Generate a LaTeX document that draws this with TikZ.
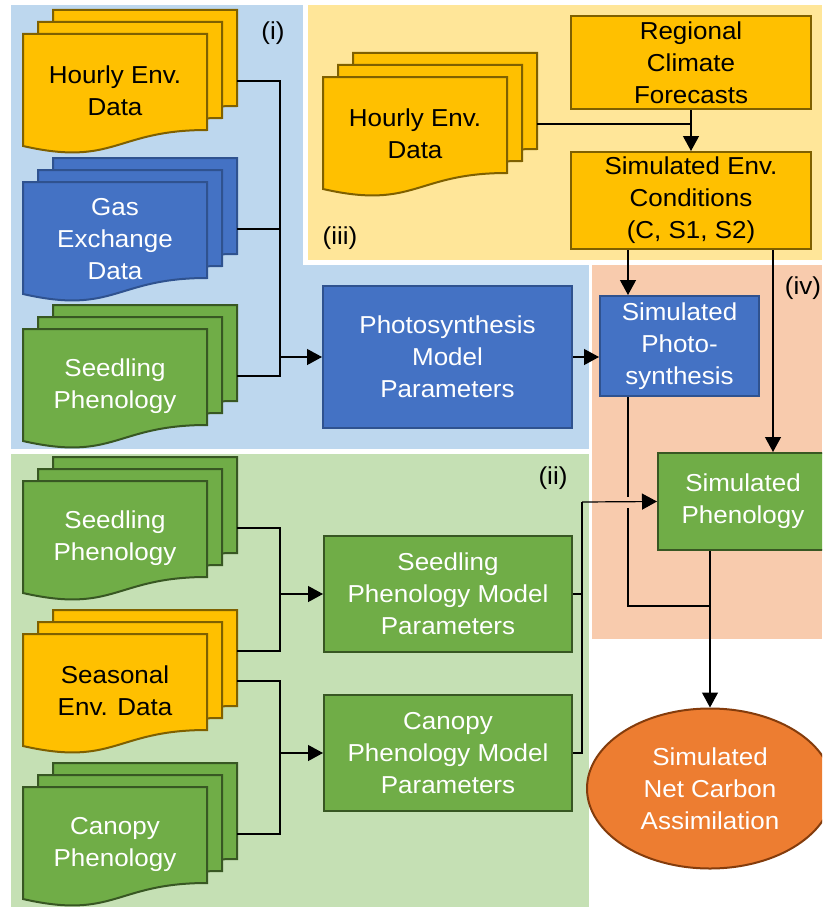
\documentclass[tikz,border=0pt]{standalone}
\usepackage{fontspec}
\setmainfont{Liberation Sans}[FakeStretch=1.06]
\usepackage{xcolor}
\usetikzlibrary{arrows.meta,shapes.geometric}

\definecolor{bgblue}{HTML}{BDD7EE}
\definecolor{bgyellow}{HTML}{FFE699}
\definecolor{bggreen}{HTML}{C5E0B4}
\definecolor{bgpeach}{HTML}{F8CBAD}
\definecolor{boxblue}{HTML}{4472C4}
\definecolor{boxblueline}{HTML}{2F528F}
\definecolor{boxgreen}{HTML}{70AD47}
\definecolor{boxgreenline}{HTML}{385723}
\definecolor{boxgold}{HTML}{FFC000}
\definecolor{boxgoldline}{HTML}{7F6000}
\definecolor{boxorange}{HTML}{ED7D31}
\definecolor{boxorangeline}{HTML}{843C0C}

% stack of three pages: name, x, y (front page corner), fill, line, text colour, text
\newcommand\docstack[7]{%
  \foreach \sh in {30,15,0}
    \draw[page, draw=#5, fill=#4] ({#2+\sh},{#3-0.8*\sh}) -- ({#2+\sh+184},{#3-0.8*\sh})
      -- ({#2+\sh+184},{#3-0.8*\sh+96})
      .. controls ({#2+\sh+92},{#3-0.8*\sh+96}) and ({#2+\sh+92},{#3-0.8*\sh+133}) .. ({#2+\sh},{#3-0.8*\sh+112}) -- cycle;
  \node[stack] (#1) at ({#2+107},{#3+47}) {};
  \node[align=center, text=#6] (#1txt) at ({#2+92},{#3+57}) {#7};
}

\begin{document}
\begin{tikzpicture}[x=1pt, y=-1pt,
            font=\fontsize{24.5}{32}\selectfont,
            box/.style={shape=rectangle, draw, line width=2pt, align=center, inner sep=0pt},
            bluebox/.style={box, fill=boxblue, draw=boxblueline, text=white},
            greenbox/.style={box, fill=boxgreen, draw=boxgreenline, text=white},
            goldbox/.style={box, fill=boxgold, draw=boxgoldline, text=black},
            page/.style={line width=2pt, line join=miter},
            stack/.style={shape=rectangle, inner sep=0pt, outer sep=0pt, minimum width=214pt, minimum height=142pt},
            wire/.style={line width=1.2pt},
            arr/.style={line width=1.2pt, -{Triangle[length=15pt,width=16pt]}}]
        \useasboundingbox (0,0) rectangle (822,907);
        \clip (0,0) rectangle (822,907);
        \fill[white] (0,0) rectangle (822,907);

        \fill[bgblue] (11,5) rectangle (589,449);
        \fill[bggreen] (11,454) rectangle (589,907);
        \fill[white] (303,0) rectangle (822,265);
        \fill[bgyellow] (308,5) rectangle (822,260);
        \fill[bgpeach] (592,265) rectangle (822,639);

        \node (labi) at (273,33) {(i)};
        \node (labii) at (553,478) {(ii)};
        \node (labiii) at (340,238) {(iii)};
        \node (labiv) at (803,288) {(iv)};

        \docstack{hourlyA}{23}{34}{boxgold}{boxgoldline}{black}{Hourly Env.\\Data}
        \docstack{gas}{23}{182}{boxblue}{boxblueline}{white}{Gas\\Exchange\\Data}
        \docstack{seedA}{23}{329}{boxgreen}{boxgreenline}{white}{Seedling\\Phenology}
        \docstack{seedB}{23}{481}{boxgreen}{boxgreenline}{white}{Seedling\\Phenology}
        \docstack{seas}{23}{634}{boxgold}{boxgoldline}{black}{Seasonal\\Env. Data}
        \docstack{canopy}{23}{787}{boxgreen}{boxgreenline}{white}{Canopy\\Phenology}
        \docstack{hourlyB}{323}{77}{boxgold}{boxgoldline}{black}{Hourly Env.\\Data}

        \node[goldbox, minimum width=240pt, minimum height=93pt] (regional) at (691,62.5) {Regional\\Climate\\Forecasts};
        \node[goldbox, minimum width=240pt, minimum height=97pt] (simenv) at (691,200.5) {Simulated Env.\\Conditions\\(C, S1, S2)};
        \node[bluebox, minimum width=249pt, minimum height=142pt] (photo) at (447.5,357) {Photosynthesis\\Model\\Parameters};
        \node[bluebox, minimum width=159pt, minimum height=100pt] (simphoto) at (679.5,346) {Simulated\\Photo-\\synthesis};
        \node[greenbox, minimum width=248pt, minimum height=116pt] (seedpar) at (448,594) {Seedling\\Phenology Model\\Parameters};
        \node[greenbox, minimum width=248pt, minimum height=116pt] (canpar) at (448,753) {Canopy\\Phenology Model\\Parameters};
        \node[greenbox, minimum width=170pt, minimum height=97pt] (simpheno) at (743,501.5) {Simulated\\Phenology};
        \node[shape=ellipse, draw=boxorangeline, fill=boxorange, line width=2pt, text=white, align=center,
              inner sep=0pt, minimum width=246pt, minimum height=160pt] (net) at (710,788.5) {Simulated\\Net Carbon\\Assimilation};

        \coordinate (jA) at (280,357);
        \coordinate (jB) at (280,594);
        \coordinate (jC) at (280,753);
        \coordinate (jD) at (582,502);
        \coordinate (jE) at (710,606);
        \coordinate (px) at (628,0);
        \coordinate (qx) at (773,0);
        \coordinate (hopA) at (628,497);
        \coordinate (hopB) at (628,508);

        \draw[wire] (hourlyA.east) -| (jA);
        \draw[wire] (gas.east) -| (jA);
        \draw[wire] (seedA.east) -| (jA);
        \draw[arr] (jA) -- (photo.west);

        \draw[wire] (seedB.east) -| (jB);
        \draw[wire] ([yshift=30pt]seas.east) -| (jB);
        \draw[arr] (jB) -- (seedpar.west);
        \draw[wire] (seas.east) -| (jC);
        \draw[wire] (canopy.east) -| (jC);
        \draw[arr] (jC) -- (canpar.west);

        \draw[wire] (seedpar.east) -| (jD);
        \draw[wire] (canpar.east) -| (jD);
        \draw[arr] (jD) -- (simpheno.west);

        \draw[wire] (hourlyB.east) -- (hourlyB.east -| regional.south);
        \draw[arr] (regional) -- (simenv);
        \draw[arr] (simenv.south -| px) -- (simphoto.north -| px);
        \draw[arr] (simenv.south -| qx) -- (simpheno.north -| qx);
        \draw[arr] (photo.east) -- (photo.east -| simphoto.west);

        \draw[wire] (simphoto.south -| px) -- (hopA);
        \draw[wire] (hopB) |- (jE);
        \draw[arr] (simpheno.south -| jE) -- (net.north);
\end{tikzpicture}
\end{document}
